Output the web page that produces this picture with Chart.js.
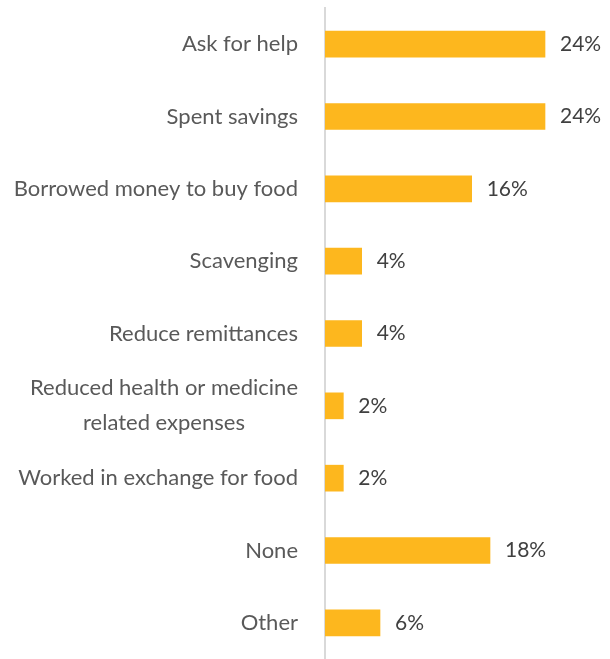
<!DOCTYPE html>
<html>
<head>
<meta charset="utf-8">
<script src="https://cdn.jsdelivr.net/npm/chart.js@4"></script>
<style>
    html, body { margin: 0; padding: 0; background: #fff; }
    #wrap { width: 610px; height: 659px; position: relative; }
</style>
</head>
<body>
<div id="wrap"><canvas id="chart1"></canvas></div>
<script>
const categories = [
    'Ask for help',
    'Spent savings',
    'Borrowed money to buy food',
    'Scavenging',
    'Reduce remittances',
    ['Reduced health or medicine', 'related expenses'],
    'Worked in exchange for food',
    'None',
    'Other'
];
const shares = [24, 24, 16, 4, 4, 2, 2, 18, 6];

const FONT = 'Lato, "Open Sans", sans-serif';

// Подписи категорий слева: одиночные выравниваются вправо, многострочные — по центру блока
const categoryLabels = {
    id: 'categoryLabels',
    afterDraw(chart) {
        const ctx = chart.ctx;
        const y = chart.scales.y;
        const right = chart.chartArea.left - 27;
        ctx.save();
        ctx.font = '22px ' + FONT;
        ctx.fillStyle = '#595959';
        ctx.textBaseline = 'middle';
        categories.forEach((label, i) => {
            const yc = y.getPixelForTick(i);
            if (Array.isArray(label)) {
                const widest = Math.max(...label.map(l => ctx.measureText(l).width));
                const cx = right - widest / 2;
                const lh = 35;
                ctx.textAlign = 'center';
                label.forEach((line, k) => {
                    ctx.fillText(line, cx, yc + (k - (label.length - 1) / 2) * lh);
                });
            } else {
                ctx.textAlign = 'right';
                ctx.fillText(label, right, yc);
            }
        });
        ctx.restore();
    }
};

// Значения справа от столбцов
const valueLabels = {
    id: 'valueLabels',
    afterDatasetsDraw(chart) {
        const ctx = chart.ctx;
        const meta = chart.getDatasetMeta(0);
        ctx.save();
        ctx.font = '21px ' + FONT;
        ctx.fillStyle = '#404040';
        ctx.textAlign = 'left';
        ctx.textBaseline = 'middle';
        meta.data.forEach((bar, i) => {
            ctx.fillText(shares[i] + '%', bar.x + 15, bar.y);
        });
        ctx.restore();
    }
};

new Chart(document.getElementById('chart1').getContext('2d'), {
    type: 'bar',
    data: {
        labels: categories,
        datasets: [{
            data: shares,
            backgroundColor: '#FDB71E',
            barThickness: 26
        }]
    },
    plugins: [categoryLabels, valueLabels],
    options: {
        indexAxis: 'y',
        responsive: true,
        maintainAspectRatio: false,
        animation: false,
        layout: {
            padding: { top: 8, right: 10, bottom: 0, left: 0 }
        },
        plugins: {
            legend: { display: false },
            tooltip: { enabled: false }
        },
        scales: {
            x: {
                display: false,
                min: 0,
                max: 30
            },
            y: {
                grid: { display: false },
                border: { display: true, color: '#d9d9d9', width: 2 },
                // подписи рисует плагин, здесь только ось
                ticks: { display: false, padding: 0 },
                afterFit(scale) {
                    scale.width = 325;
                }
            }
        }
    }
});
</script>
</body>
</html>
